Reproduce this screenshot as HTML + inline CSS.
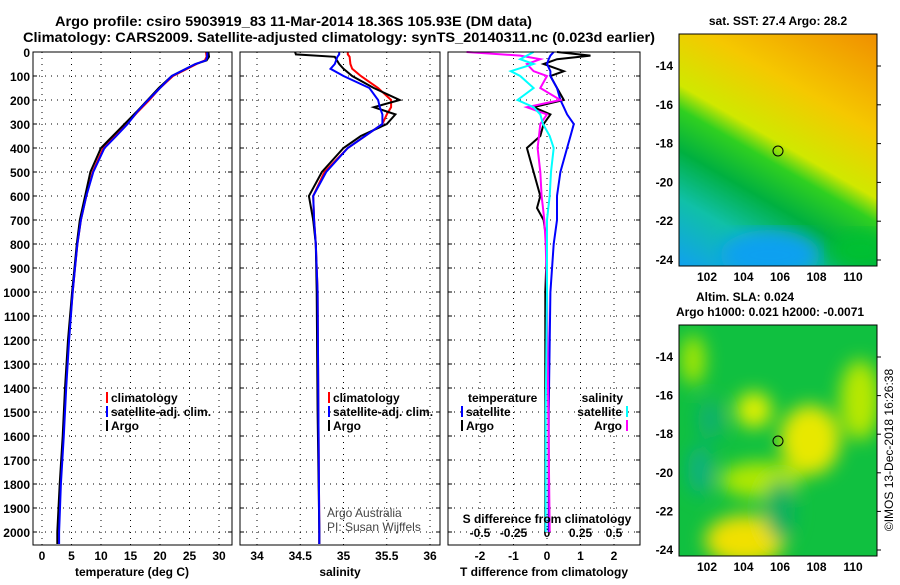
<!DOCTYPE html>
<html><head><meta charset="utf-8">
<style>
body{margin:0;background:#fff;width:900px;height:580px;overflow:hidden}
svg text{font-family:"Liberation Sans",sans-serif;font-weight:bold;fill:#000}
</style></head><body>
<svg id="c" width="900" height="580" xmlns="http://www.w3.org/2000/svg">
<defs>
<linearGradient id="sst" gradientUnits="userSpaceOnUse" x1="703" y1="282" x2="853" y2="22">
<stop offset="0" stop-color="#10a0f0"/><stop offset="0.2" stop-color="#10c0a8"/>
<stop offset="0.34" stop-color="#00b040"/><stop offset="0.46" stop-color="#30d020"/>
<stop offset="0.53" stop-color="#d0e800"/><stop offset="0.72" stop-color="#f5c800"/>
<stop offset="1" stop-color="#f09000"/></linearGradient>
<filter id="bl"><feGaussianBlur stdDeviation="9"/></filter>
<clipPath id="m1"><rect x="679" y="34" width="198" height="232"/></clipPath>
<clipPath id="m2"><rect x="679" y="325" width="198" height="231"/></clipPath>
</defs>
<text x="55" y="26" font-size="14" textLength="477" lengthAdjust="spacingAndGlyphs">Argo profile: csiro 5903919_83 11-Mar-2014 18.36S 105.93E (DM data)</text>
<text x="23" y="42" font-size="14" textLength="632" lengthAdjust="spacingAndGlyphs">Climatology: CARS2009. Satellite-adjusted climatology: synTS_20140311.nc (0.023d earlier)</text>
<g id="plots"></g>
<g>
<text x="778" y="25" font-size="12" text-anchor="middle">sat. SST: 27.4 Argo: 28.2</text>
<g clip-path="url(#m1)">
<rect x="679" y="34" width="198" height="232" fill="url(#sst)"/>
<ellipse cx="770" cy="255" rx="50" ry="25" fill="#10a0f0" filter="url(#bl)"/>
<ellipse cx="860" cy="250" rx="30" ry="20" fill="#00c030" filter="url(#bl)"/>
</g>
<rect x="679" y="34" width="198" height="232" fill="none" stroke="#000"/>
<circle cx="778" cy="151" r="5" fill="none" stroke="#000"/>
</g>
<g>
<text x="745" y="301" font-size="12" text-anchor="middle">Altim. SLA: 0.024</text>
<text x="770" y="316" font-size="12" text-anchor="middle">Argo h1000: 0.021 h2000: -0.0071</text>
<g clip-path="url(#m2)">
<rect x="679" y="325" width="198" height="231" fill="#10c040"/>
<g filter="url(#bl)">
<ellipse cx="693" cy="360" rx="12" ry="25" fill="#a8e800"/>
<ellipse cx="754" cy="410" rx="18" ry="18" fill="#e0f000"/>
<ellipse cx="810" cy="440" rx="30" ry="35" fill="#e8e800"/>
<ellipse cx="760" cy="480" rx="40" ry="18" fill="#b0e800"/>
<ellipse cx="745" cy="540" rx="40" ry="25" fill="#f0e000"/>
<ellipse cx="860" cy="400" rx="20" ry="40" fill="#b8e800"/>
<ellipse cx="700" cy="470" rx="12" ry="25" fill="#10b080"/>
<ellipse cx="710" cy="420" rx="12" ry="20" fill="#10b070"/>
<ellipse cx="780" cy="510" rx="15" ry="30" fill="#10b060"/>
</g>
</g>
<rect x="679" y="325" width="198" height="231" fill="none" stroke="#000"/>
<circle cx="778" cy="441" r="5" fill="none" stroke="#000"/>
</g>
<text transform="translate(893,450) rotate(-90)" font-size="12" text-anchor="middle" style="font-weight:normal">©IMOS 13-Dec-2018 16:26:38</text>
</svg>
<script>
const tDepth=[0,20,35,50,100,150,200,250,300,350,400,500,600,700,800,900,1000,1200,1400,1600,1800,2000,2050];
const tArgo=[28.2,28.3,27.9,26,22,19.8,17.9,16,14,12,10,8.2,7.3,6.4,5.9,5.5,5.1,4.4,3.9,3.5,3.0,2.6,2.6];
const tClim=[27.8,27.9,27.6,26.2,22.2,20,18.2,16.2,14.4,12.4,10.4,8.6,7.5,6.6,6.0,5.6,5.2,4.5,4.0,3.6,3.1,2.8,2.8];
const tSat=[28.0,28.0,27.8,26.0,22.0,20,18.0,16.1,14.5,12.6,10.6,8.7,7.5,6.6,6.0,5.6,5.2,4.6,4.1,3.7,3.2,2.9,2.9];
const sDepth=[0,10,20,50,70,100,150,200,230,260,300,350,400,500,600,700,800,1000,1500,2000,2050];
const sArgo=[34.44,34.45,34.9,34.95,35.0,35.1,35.35,35.65,35.35,35.6,35.5,35.2,35.0,34.75,34.6,34.65,34.68,34.69,34.70,34.72,34.72];
const sClim=[35.05,35.05,35.07,35.08,35.1,35.2,35.4,35.55,35.55,35.5,35.45,35.25,35.05,34.78,34.65,34.66,34.68,34.7,34.71,34.72,34.72];
const sSat=[34.95,34.95,34.93,34.9,34.85,35.0,35.3,35.4,35.42,35.45,35.45,35.25,35.05,34.8,34.65,34.66,34.68,34.7,34.71,34.72,34.72];
const dDepth=[0,15,30,50,80,100,150,200,230,260,300,350,400,500,600,650,700,800,1000,1500,2000];
const dTArgo=[0.3,1.3,0.3,-0.1,0.5,0.1,0.3,0.5,-0.4,0.1,-0.1,-0.2,-0.6,-0.4,-0.2,-0.3,-0.1,0,-0.05,-0.05,-0.05];
const dTSat=[0.2,0.1,0.05,0.0,0.1,0.1,0.3,0.4,0.5,0.6,0.8,0.7,0.6,0.4,0.3,0.3,0.3,0.2,0.1,0.05,0.05];
const dSArgo=[-0.6,-0.2,-0.05,-0.15,-0.1,0,-0.05,0.1,-0.15,0.0,-0.05,-0.06,-0.07,-0.05,-0.04,-0.03,-0.02,-0.01,0,0.01,0.02];
const dSSat=[-0.1,-0.15,-0.2,-0.1,-0.27,-0.2,-0.1,-0.22,-0.1,-0.05,-0.03,0.02,0.05,0.03,0.02,0.01,0,0,0,-0.01,-0.01];
const depthTicks=[0,100,200,300,400,500,600,700,800,900,1000,1100,1200,1300,1400,1500,1600,1700,1800,1900,2000];
const tTicks=[0,5,10,15,20,25,30];
const sTicks=[34,34.5,35,35.5,36];
const dTTicks=[-2,-1,0,1,2];
const dSTicks=[-0.5,-0.25,0,0.25,0.5];
const dSTickLabels=["-0.5","-0.25","0","0.25","0.5"];

const NS='http://www.w3.org/2000/svg';
const G=document.getElementById('plots');
function mk(t,a,p){const e=document.createElementNS(NS,t);for(const k in a)e.setAttribute(k,a[k]);(p||G).appendChild(e);return e;}
const yD=d=>52+d*0.24;
const TOP=52,BOT=545;
const xT=v=>42+v*5.9, xS=v=>257+(v-34)*86.5, xDT=v=>547+v*33.5, xDS=v=>547+v*134;
const panels=[{l:33,r:232,n:'temperature-panel'},{l:240,r:440,n:'salinity-panel'},{l:448,r:640,n:'difference-panel'}];
function txt(x,y,s,sz,anchor,p){const e=mk('text',{x:x,y:y,'font-size':sz,'text-anchor':anchor||'middle'},p);e.textContent=s;return e;}
panels.forEach(P=>{
  const g=mk('g',{});
  
  
  P.g=g;
  depthTicks.forEach(d=>{mk('line',{x1:P.l,x2:P.r,y1:yD(d),y2:yD(d),stroke:'#000','stroke-dasharray':'1 5'},g);
    mk('line',{x1:P.l,x2:P.l+4,y1:yD(d),y2:yD(d),stroke:'#000'},g);mk('line',{x1:P.r-4,x2:P.r,y1:yD(d),y2:yD(d),stroke:'#000'},g);});
});
depthTicks.forEach(d=>{const e=txt(30,yD(d)+5,String(d),12,'end');
  
  });
function xaxis(P,ticks,f,labels,ly){
  ticks.forEach((v,i)=>{const x=f(v);mk('line',{x1:x,x2:x,y1:TOP,y2:BOT,stroke:'#000','stroke-dasharray':'1 5'},P.g);
    const e=txt(x,ly,labels?labels[i]:String(v),12,'middle',P.g);
    
    });
}
xaxis(panels[0],tTicks,xT,null,560);
xaxis(panels[1],sTicks,xS,null,560);
xaxis(panels[2],dTTicks,xDT,null,560);
dSTicks.forEach((v,i)=>{const e=txt(xDS(v),537,dSTickLabels[i],12,'middle',panels[2].g);
  
  });
function series(P,ds,vs,f,col,name){
  const pts=ds.map((d,i)=>f(vs[i]).toFixed(1)+','+yD(d).toFixed(1)).join(' ');
  const e=mk('polyline',{points:pts,fill:'none',stroke:col,'stroke-width':2},P.g);
  
  
}
series(panels[0],tDepth,tClim,xT,'#f00','temperature-climatology-line');
series(panels[0],tDepth,tArgo,xT,'#000','temperature-argo-line');
series(panels[0],tDepth,tSat,xT,'#00f','temperature-satellite-line');
series(panels[1],sDepth,sClim,xS,'#f00','salinity-climatology-line');
series(panels[1],sDepth,sArgo,xS,'#000','salinity-argo-line');
series(panels[1],sDepth,sSat,xS,'#00f','salinity-satellite-line');
series(panels[2],dDepth,dTArgo,xDT,'#000','t-diff-argo-line');
series(panels[2],dDepth,dTSat,xDT,'#00f','t-diff-satellite-line');
series(panels[2],dDepth,dSArgo,xDS,'#f0f','s-diff-argo-line');
series(panels[2],dDepth,dSSat,xDS,'#0ff','s-diff-satellite-line');
panels.forEach(P=>mk('rect',{x:P.l,y:TOP,width:P.r-P.l,height:BOT-TOP,fill:'none',stroke:'#000'},P.g));
function leg(P,x,y,col,label,anchor){
  const lx=anchor==='end'?x+4:x-4;
  mk('line',{x1:lx,x2:lx,y1:y-10,y2:y+1,stroke:col,'stroke-width':2},P.g);
  const e=txt(anchor==='end'?x-1:x,y,label,12,anchor||'start',P.g);
  
  
}
leg(panels[0],111,402,'#f00','climatology');leg(panels[0],111,416,'#00f','satellite-adj. clim.');leg(panels[0],111,430,'#000','Argo');
leg(panels[1],333,402,'#f00','climatology');leg(panels[1],333,416,'#00f','satellite-adj. clim.');leg(panels[1],333,430,'#000','Argo');
let e=txt(468,402,'temperature',12,'start',panels[2].g);
leg(panels[2],466,416,'#00f','satellite');leg(panels[2],466,430,'#000','Argo');
e=txt(623,402,'salinity',12,'end',panels[2].g);
leg(panels[2],623,416,'#0ff','satellite','end');leg(panels[2],623,430,'#f0f','Argo','end');
e=txt(547,523,'S difference from climatology',12,'middle',panels[2].g);


[['temperature (deg C)',132,'temperature-axis-title'],['salinity',340,'salinity-axis-title'],['T difference from climatology',544,'t-diff-axis-title']].forEach(a=>{
  const t=txt(a[1],576,a[0],12,'middle');
  
  });
e=txt(327,517,'Argo Australia',12,'start');e.style.fontWeight='normal';e.style.fill='#444';


e=txt(327,531,'PI: Susan Wijffels',12,'start');e.style.fontWeight='normal';e.style.fill='#444';


const mapLon=[102,104,106,108,110], mapLat=[-14,-16,-18,-20,-22,-24];
const lonX=v=>707+(v-102)*18.25;
[[66,19.4,266,'sst'],[357,19.3,556,'sla']].forEach(m=>{
  mapLon.forEach(v=>{const t=txt(lonX(v),m[2]+15,String(v),12,'middle');
    
    });
  mapLat.forEach(v=>{const y=m[0]+(-14-v)*m[1];const t=txt(673,y+4,String(v),12,'end');
    
    
    mk('line',{x1:877,x2:881,y1:y,y2:y,stroke:'#000'});});
});
</script>
</body></html>
